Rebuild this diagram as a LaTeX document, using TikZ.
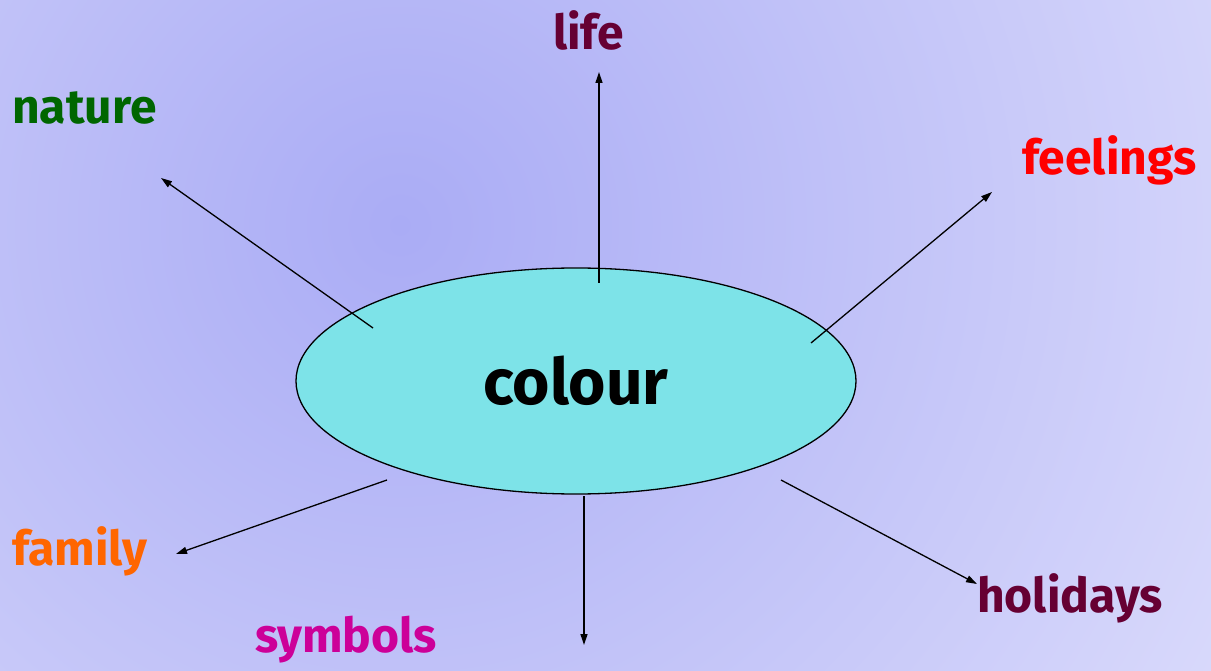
\documentclass[tikz,border=0pt]{standalone}
\usepackage{fontspec}
\setmainfont{Fira Sans}
\usetikzlibrary{arrows.meta,shapes.geometric}
\definecolor{bginner}{RGB}{170,172,245}
\definecolor{bgouter}{RGB}{232,232,253}
\definecolor{ellfill}{RGB}{125,227,232}
\definecolor{cnature}{RGB}{0,102,0}
\definecolor{clife}{RGB}{102,0,51}
\definecolor{cfeel}{RGB}{255,0,0}
\definecolor{cfamily}{RGB}{255,102,0}
\definecolor{csymb}{RGB}{204,0,153}
\definecolor{choli}{RGB}{102,0,51}
\tikzset{
  lbl/.style={font=\fontsize{48}{52}\selectfont\bfseries, inner sep=0pt, anchor=base west},
  conn/.style={draw=black, line width=1.3pt, -{Triangle[length=11pt,width=7pt]}}
}
\begin{document}
\begin{tikzpicture}[x=1pt,y=-1pt]
\useasboundingbox (0,0) rectangle (1211,671);
\begin{scope}
\clip (0,0) rectangle (1211,671);
\shade[inner color=bginner, outer color=bgouter] (400,225) circle (1250);
\end{scope}
\node[ellipse, draw=black, line width=1.3pt, fill=ellfill, minimum width=560pt, minimum height=226pt, inner sep=0pt,
  font=\fontsize{64}{68}\selectfont\bfseries] (c) at (576,381) {colour};
% labels
\node[lbl, text=clife] (life) at (553,50) {life};
\node[lbl, text=cnature] (nature) at (12,124) {nature};
\node[lbl, text=cfeel] (feel) at (1022,175) {feelings};
\node[lbl, text=cfamily] (family) at (12,565) {family};
\node[lbl, text=csymb] (symb) at (255,652) {symbols};
\node[lbl, text=choli] (holi) at (977,612) {holidays};
% connector ends
\coordinate (s1) at (599,283); \coordinate (e1) at (599,72);
\coordinate (s2) at (373,328); \coordinate (e2) at (161,178);
\coordinate (s3) at (811,343); \coordinate (e3) at (992,192);
\coordinate (s4) at (387,480); \coordinate (e4) at (176,554);
\coordinate (s5) at (584,496); \coordinate (e5) at (584,645);
\coordinate (s6) at (781,480); \coordinate (e6) at (977,584);
\draw[conn] (s1) -- (e1);
\draw[conn] (s2) -- (e2);
\draw[conn] (s3) -- (e3);
\draw[conn] (s4) -- (e4);
\draw[conn] (s5) -- (e5);
\draw[conn] (s6) -- (e6);
\end{tikzpicture}
\end{document}
